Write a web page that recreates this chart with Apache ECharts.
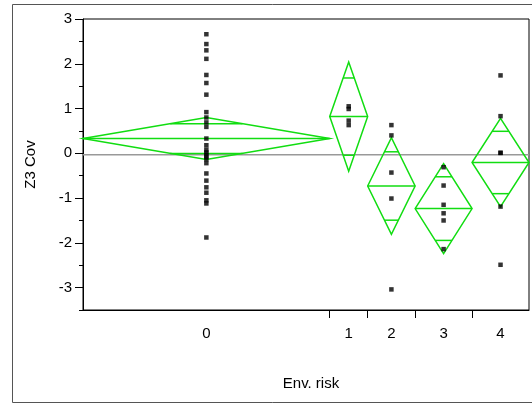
<!DOCTYPE html>
<html>
<head>
<meta charset="utf-8">
<script src="https://cdn.jsdelivr.net/npm/echarts@6/dist/echarts.min.js"></script>
<style>
	html, body { margin: 0; padding: 0; background: #fff; }
	#chart { width: 532px; height: 404px; }
</style>
</head>
<body>
<div id="chart"></div>
<script>
// 組別
var groups = ["0", "1", "2", "3", "4"];
// 各組觀測值
var g0 = [2.66, 2.44, 2.30, 2.11, 1.75, 1.57, 1.31, 0.92, 0.80, 0.69, 0.59, 0.33, 0.18, 0.08, 0.02, -0.03, -0.08, -0.13, -0.22, -0.45, -0.61, -0.76, -0.88, -1.05, -1.12, -1.88];
var g1 = [1.05, 0.99, 0.73, 0.63];
var g2 = [0.63, 0.40, -0.43, -1.01, -3.04];
var g3 = [-0.31, -0.72, -1.15, -1.34, -1.50, -2.14];
var g4 = [1.74, 0.83, 0.01, 0.01, -1.19, -2.49];
// 平均數與信賴區間半寬
var means = [0.33, 0.82, -0.73, -1.235, -0.205];
var ciHalf = [0.47, 1.22, 1.08, 1.005, 0.985];
var grandMean = -0.03;
// y 軸刻度
var yMajor = [-3, -2, -1, 0, 1, 2, 3];
var yMinor = [-3.5, -2.5, -1.5, -0.5, 0.5, 1.5, 2.5];

var green = "#11dd11";
var font = "Liberation Sans, Arial, sans-serif";

var all = [g0, g1, g2, g3, g4];
var starts = [];
var ends = [];
var acc = 0;
all.forEach(function (g) {
	starts.push(acc);
	acc += g.length;
	ends.push(acc);
});
var total = acc;
var centers = starts.map(function (s, i) { return (s + ends[i]) / 2; });
var bounds = ends.slice(0, -1);

var points = [];
all.forEach(function (g, i) {
	g.forEach(function (v) { points.push([centers[i], v]); });
});
var diamonds = groups.map(function (name, i) {
	return [starts[i], ends[i], means[i], ciHalf[i]];
});

// 菱形: 平均線 + 重疊標記
function renderDiamond(params, api) {
	var x0 = api.value(0), x1 = api.value(1), m = api.value(2), h = api.value(3);
	var xc = (x0 + x1) / 2;
	var L = api.coord([x0, m]), R = api.coord([x1, m]);
	var T = api.coord([xc, m + h]), B = api.coord([xc, m - h]);
	var d = h / Math.SQRT2;
	var half = (x1 - x0) / 2 * (1 - d / h);
	var style = { stroke: green, lineWidth: 1.5, fill: null };
	var kids = [
		{ type: "polygon", shape: { points: [L, T, R, B] }, style: style },
		{ type: "line", shape: { x1: L[0], y1: L[1], x2: R[0], y2: R[1] }, style: style }
	];
	[m + d, m - d].forEach(function (yv) {
		var a = api.coord([xc - half, yv]), b = api.coord([xc + half, yv]);
		kids.push({ type: "line", shape: { x1: a[0], y1: a[1], x2: b[0], y2: b[1] }, style: style });
	});
	return { type: "group", children: kids };
}

var myChart = echarts.init(document.getElementById("chart"), null, { renderer: "canvas" });
var option = {
	animation: false,
	textStyle: { fontFamily: font },
	grid: {
		left: 83, top: 19, width: 446, height: 291,
		show: true, borderColor: "#000", borderWidth: 1
	},
	xAxis: {
		type: "value", min: 0, max: total,
		name: "Env. risk", nameLocation: "middle", nameGap: 66,
		nameTextStyle: { color: "#000", fontSize: 15, padding: [0, 0, 0, 10] },
		axisLine: { onZero: false, lineStyle: { color: "#000" } },
		axisTick: { customValues: bounds, length: 8, lineStyle: { color: "#000" } },
		axisLabel: {
			customValues: centers, margin: 16, color: "#000", fontSize: 15,
			formatter: function (v) { return groups[centers.indexOf(v)]; }
		},
		splitLine: { show: false }
	},
	yAxis: [{
		type: "value", min: -3.5, max: 3, position: "left",
		name: "Z3 Cov", nameLocation: "middle", nameGap: 37, nameRotate: 90,
		nameTextStyle: { color: "#000", fontSize: 15, padding: [0, 0, 8, 0] },
		axisLine: { show: true, onZero: false, lineStyle: { color: "#000" } },
		axisTick: { customValues: yMajor, length: 8, lineStyle: { color: "#000" } },
		axisLabel: { customValues: yMajor, margin: 11, color: "#000", fontSize: 15 },
		splitLine: { show: false }
	}, {
		type: "value", min: -3.5, max: 3, position: "left", offset: 0,
		axisLine: { show: false, onZero: false },
		axisTick: { customValues: yMinor, length: 4, lineStyle: { color: "#000" } },
		axisLabel: { show: false },
		splitLine: { show: false }
	}],
	graphic: [{
		type: "rect", silent: true, z: -1,
		shape: { x: 12.5, y: 4.5, width: 530, height: 398 },
		style: { fill: null, stroke: "#555", lineWidth: 1 }
	}],
	series: [{
		type: "line", silent: true, symbol: "none",
		data: [[0, grandMean], [total, grandMean]],
		lineStyle: { color: "#999", width: 1.5 }, z: 1
	}, {
		type: "custom", renderItem: renderDiamond, data: diamonds, z: 2,
		encode: { x: [0, 1], y: [2] }
	}, {
		type: "scatter", data: points, symbol: "rect", symbolSize: 4.5,
		itemStyle: { color: "#000" }, z: 3
	}]
};
myChart.setOption(option);
</script>
</body>
</html>
